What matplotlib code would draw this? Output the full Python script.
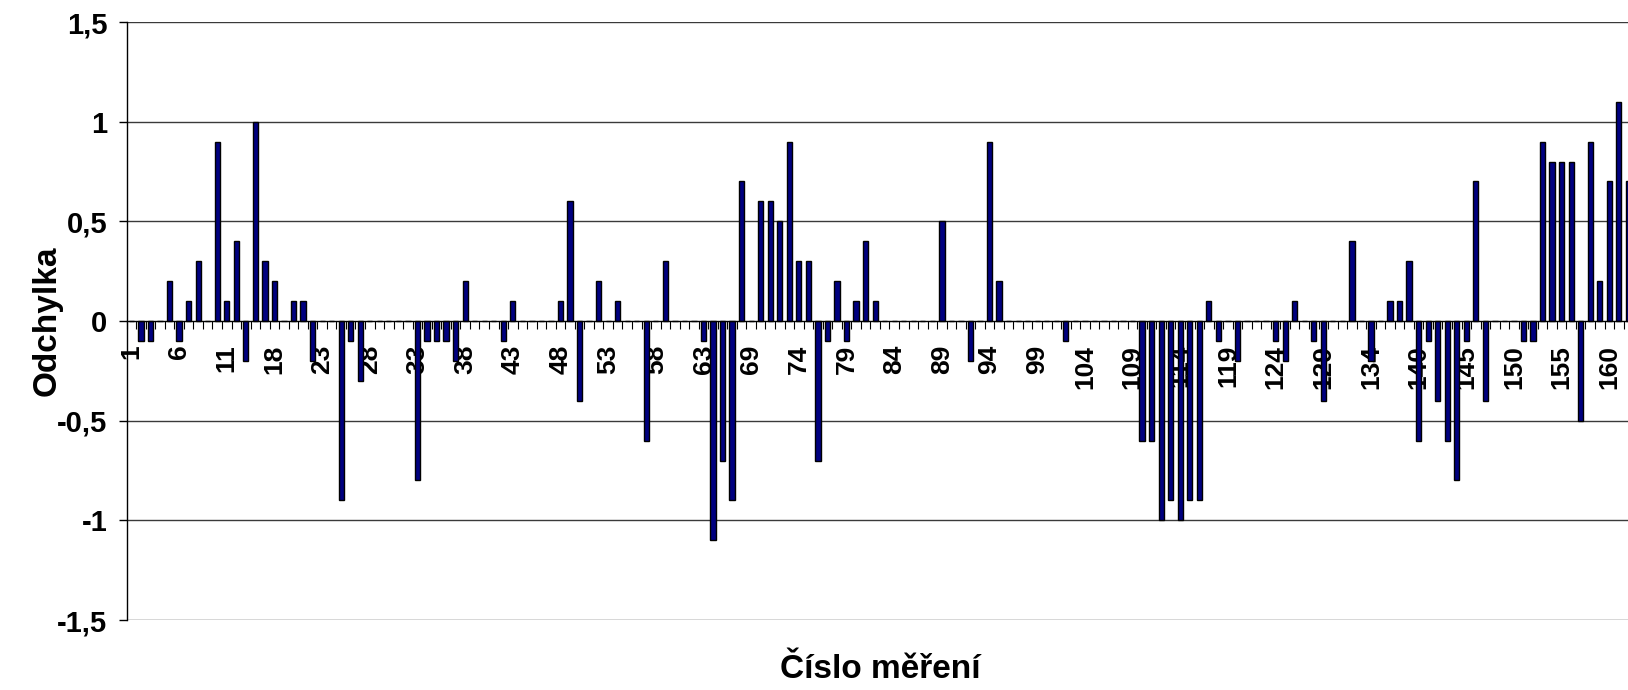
import matplotlib
matplotlib.use('Agg')
import matplotlib.pyplot as plt
import numpy as np

plt.rcParams['font.family'] = ['Liberation Sans', 'DejaVu Sans']
plt.rcParams['font.weight'] = 'bold'

# odchylky pro jednotliva mereni (poradi na ose x)
odchylka = [
    0, -0.1, -0.1, 0, 0.2, -0.1, 0.1, 0.3, 0, 0.9,
    0.1, 0.4, -0.2, 1.0, 0.3, 0.2, 0, 0.1, 0.1, -0.2,
    0, 0, -0.9, -0.1, -0.3, 0, 0, 0, 0, 0,
    -0.8, -0.1, -0.1, -0.1, -0.2, 0.2, 0, 0, 0, -0.1,
    0.1, 0, 0, 0, 0, 0.1, 0.6, -0.4, 0, 0.2,
    0, 0.1, 0, 0, -0.6, 0, 0.3, 0, 0, 0,
    -0.1, -1.1, -0.7, -0.9, 0.7, 0, 0.6, 0.6, 0.5, 0.9,
    0.3, 0.3, -0.7, -0.1, 0.2, -0.1, 0.1, 0.4, 0.1, 0,
    0, 0, 0, 0, 0, 0.5, 0, 0, -0.2, 0,
    0.9, 0.2, 0, 0, 0, 0, 0, 0, -0.1, 0,
    0, 0, 0, 0, 0, 0, -0.6, -0.6, -1.0, -0.9,
    -1.0, -0.9, -0.9, 0.1, -0.1, 0, -0.2, 0, 0, 0,
    -0.1, -0.2, 0.1, 0, -0.1, -0.4, 0, 0, 0.4, 0,
    -0.2, 0, 0.1, 0.1, 0.3, -0.6, -0.1, -0.4, -0.6, -0.8,
    -0.1, 0.7, -0.4, 0, 0, 0, -0.1, -0.1, 0.9, 0.8,
    0.8, 0.8, -0.5, 0.9, 0.2, 0.7, 1.1, 0.7,
]

# cisla mereni zobrazena u kazdeho pateho sloupce
popisky_x = ['1', '6', '11', '18', '23', '28', '33', '38', '43', '48',
             '53', '58', '63', '69', '74', '79', '84', '89', '94', '99',
             '104', '109', '114', '119', '124', '129', '134', '140', '145',
             '150', '155', '160']
hodnoty_y = [-1.5, -1, -0.5, 0, 0.5, 1, 1.5]
popisky_y = ['-1,5', '-1', '-0,5', '0', '0,5', '1', '1,5']

fig = plt.figure(figsize=(16.28, 6.9), dpi=100)
# graf pokracuje za pravy okraj obrazku
ax = fig.add_axes([0.0778, 0.1014, 0.9488, 0.8667])

x = np.arange(len(odchylka))
ax.bar(x, odchylka, width=0.55, color='#000080', edgecolor='black',
       linewidth=1.0, zorder=3)

ax.set_xlim(-0.5, 161.5)
ax.set_ylim(-1.5, 1.5)

# vodorovna mrizka
for h in hodnoty_y:
    if h != 0:
        ax.axhline(h, color='#3a3a3a', linewidth=1.0, zorder=1)

ax.spines['top'].set_visible(False)
ax.spines['right'].set_visible(False)
ax.spines['bottom'].set_position(('data', 0))
ax.spines['bottom'].set_linewidth(1.0)
ax.spines['bottom'].set_zorder(4)
ax.spines['left'].set_linewidth(1.0)

ax.set_yticks(hodnoty_y)
ax.set_yticklabels(popisky_y, fontsize=21, fontweight='bold')
ax.tick_params(axis='y', direction='out', length=5.8, width=1.0, pad=8)

# carky na hranicich kategorii, popisky u kazde pate
ax.set_xticks(np.arange(-0.5, 162, 1.0))
ax.set_xticklabels([])
ax.tick_params(axis='x', which='major', direction='out', length=5.8, width=0.8)
ax.set_xticks(np.arange(0, 160, 5), minor=True)
ax.set_xticklabels(popisky_x, minor=True, rotation=90, fontsize=19,
                   fontweight='bold')
ax.tick_params(axis='x', which='minor', length=0, pad=17)

fig.text(0.0289, 0.535, 'Odchylka', rotation=90, ha='center', va='center',
         fontsize=24, fontweight='bold')
fig.text(0.541, 0.029, 'Číslo měření', ha='center', va='center',
         fontsize=24, fontweight='bold')

fig.savefig('out.png', dpi=100)
